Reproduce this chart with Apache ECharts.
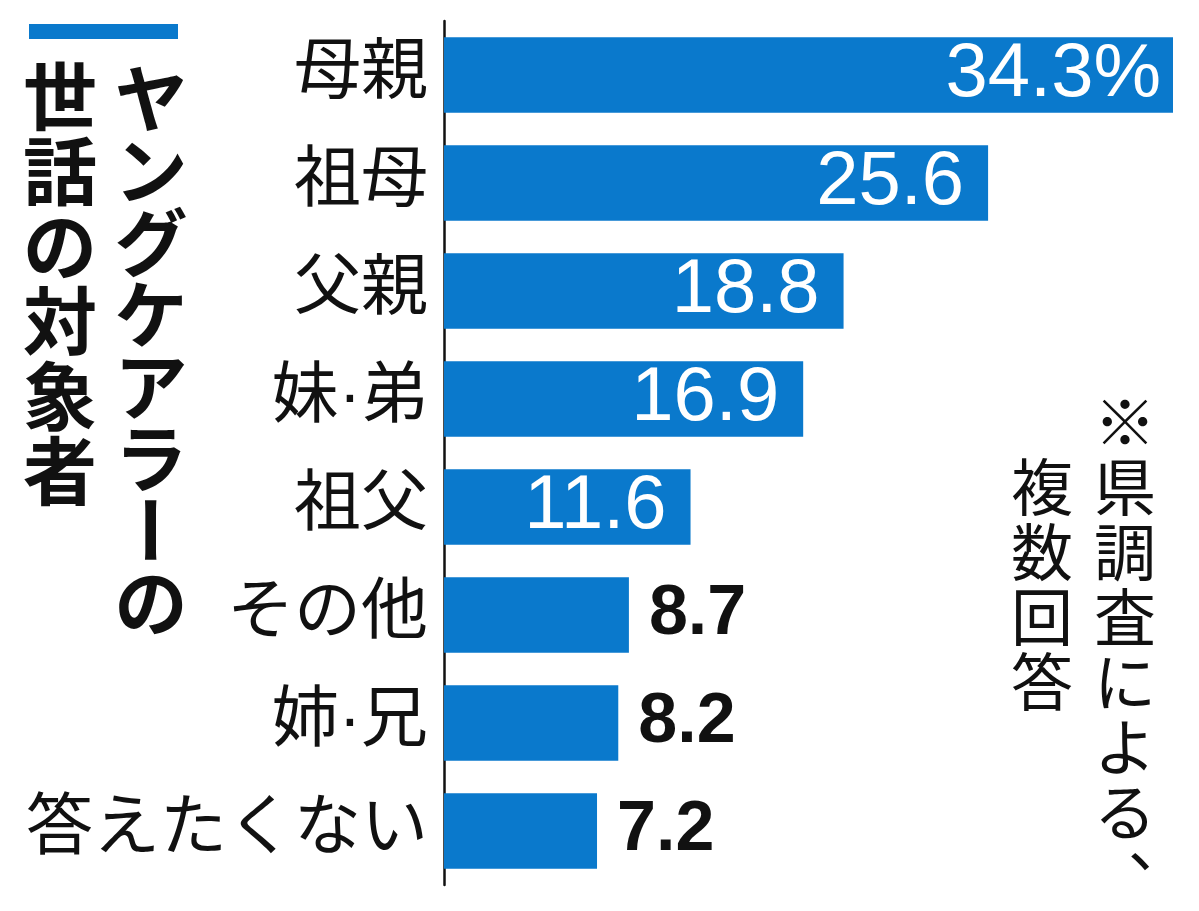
<!DOCTYPE html>
<html>
<head>
<meta charset="utf-8">
<script src="https://cdn.jsdelivr.net/npm/echarts@6/dist/echarts.min.js"></script>
<style>
html,body{margin:0;padding:0;background:#fff;}
#main{width:1199px;height:911px;}
</style>
</head>
<body>
<div id="main"></div>
<script>
// ヤングケアラーの世話の対象者（複数回答）
var categories = ["母親", "祖母", "父親", "妹·弟", "祖父", "その他", "姉·兄", "答えたくない"];
var values = [34.3, 25.6, 18.8, 16.9, 11.6, 8.7, 8.2, 7.2];
var titleCol1 = "ヤングケアラーの";
var titleCol2 = "世話の対象者";
var noteCol1 = "※県調査による、";
var noteCol2 = "複数回答";

var blue = "#0a79cc";

// 縦書きテキストを1文字ずつ並べる
function verticalText(str, cx, top, step, font, weight) {
	var els = [];
	for (var i = 0; i < str.length; i++) {
		var ch = str.charAt(i);
		var el = {
			type: 'text',
			x: cx,
			y: top + step * i + step / 2,
			style: {
				text: ch,
				fill: '#111',
				font: weight + ' ' + font + 'px "Noto Sans CJK JP"',
				align: 'center',
				verticalAlign: 'middle'
			}
		};
		if (ch == "ー") {
			el.rotation = -Math.PI / 2;
		} else if (ch == "、") {
			el.x = cx + font * 0.55;
			el.y = el.y - font * 0.55;
		}
		els.push(el);
	}
	return els;
}

var graphics = [{
	type: 'rect',
	shape: { x: 29, y: 24, width: 149, height: 15 },
	style: { fill: blue }
}];
graphics = graphics.concat(verticalText(titleCol1, 151, 62, 72, 73, 'bold'));
graphics = graphics.concat(verticalText(titleCol2, 60, 58, 75, 74, 'bold'));
graphics = graphics.concat(verticalText(noteCol1, 1125, 390, 65, 62, 'normal'));
graphics = graphics.concat(verticalText(noteCol2, 1042, 455, 65, 62, 'normal'));

var barData = [];
for (var i = 0; i < values.length; i++) {
	var inside = values[i] >= 10;
	barData.push({
		value: values[i],
		label: inside ? {
			position: 'insideRight',
			distance: i == 0 ? 12 : 24,
			color: '#fff',
			fontWeight: 'normal',
			fontSize: 76
		} : {
			position: 'right',
			distance: 20,
			color: '#111',
			fontWeight: 'bold',
			fontSize: 70
		}
	});
}

var mycharts = echarts.init(document.getElementById('main'));
var option = {
	animation: false,
	backgroundColor: '#fff',
	grid: {
		left: 444,
		top: 21,
		width: 729,
		height: 864
	},
	xAxis: {
		type: 'value',
		min: 0,
		max: 34.3,
		show: false
	},
	yAxis: {
		type: 'category',
		inverse: true,
		data: categories,
		axisLine: { show: true, lineStyle: { color: '#111', width: 2.5 } },
		axisTick: { show: false },
		axisLabel: {
			margin: 16,
			fontSize: 67,
			color: '#111',
			padding: [12, 0, 0, 0],
			fontFamily: '"Liberation Sans", "Noto Sans CJK JP"'
		}
	},
	series: [{
		type: 'bar',
		data: barData,
		barCategoryGap: '30%',
		itemStyle: { color: blue },
		label: {
			show: true,
			fontFamily: '"Liberation Sans", Arial',
			formatter: function(p) {
				var s = p.value.toFixed(1);
				return p.dataIndex == 0 ? s + '%' : s;
			}
		}
	}],
	graphic: graphics
};
mycharts.setOption(option);
</script>
</body>
</html>
